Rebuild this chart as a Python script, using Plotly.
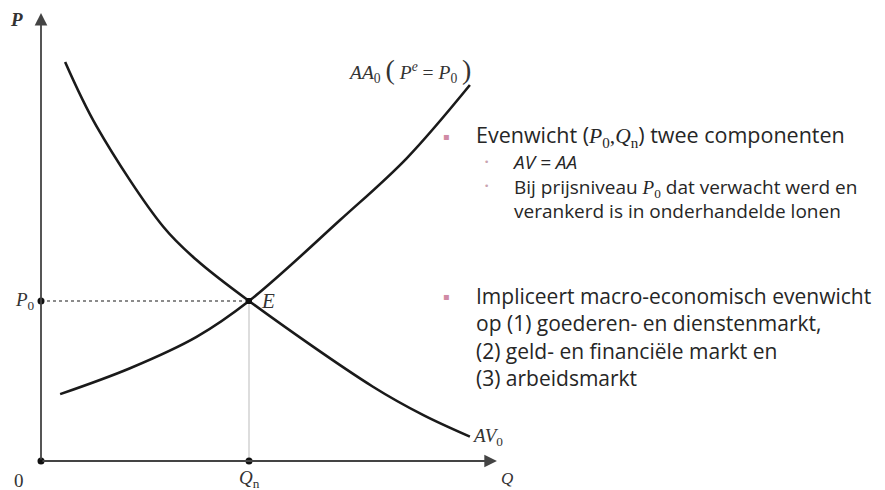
import plotly.graph_objects as go

# ---- data (Q = output, P = price level) ----
av_q = [0.58, 1.34, 2.94, 3.74, 5.0, 7.98, 9.18, 10.31]
av_p = [12.47, 10.45, 7.32, 6.28, 5.0, 2.32, 1.44, 0.76]
aa_q = [0.46, 2.14, 3.74, 5.0, 7.19, 8.79, 10.31]
aa_p = [2.09, 2.90, 3.88, 5.0, 7.53, 9.46, 11.75]
q_n = 5.0
p_0 = 5.0
q_max = 10.96
p_max = 14.0

main_head = 'Evenwicht (<span style="font-family:Liberation Serif"><i>P</i><sub>0</sub>,<i>Q</i><sub>n</sub></span>) twee componenten'
main_lines = [
    'Impliceert macro-economisch evenwicht',
    'op (1) goederen- en dienstenmarkt,',
    '(2) geld- en financiële markt en',
    '(3) arbeidsmarkt',
]
sub_lines = [
    '<i>AV = AA</i>',
    'Bij prijsniveau <span style="font-family:Liberation Serif"><i>P</i><sub>0</sub></span> dat verwacht werd en',
    'verankerd is in onderhandelde lonen',
]
main_bullet_y = [136, 296]
sub_bullet_y = [162, 186]

W, H = 885, 490
ux, uy = 41.6, 32.0
x0px, y0px = 41, 461
xr = [-x0px / ux, (W - x0px) / ux]
yr = [-(H - y0px) / uy, y0px / uy]

def px(x):
    return x / W

def py(y):
    return 1 - y / H

fig = go.Figure()
axis_col = "#444444"
curve_col = "#1a1a1a"

# guide lines
fig.add_trace(go.Scatter(x=[0, q_n], y=[p_0, p_0], mode="lines",
                         line=dict(color="#666666", width=1.3, dash="dot"), hoverinfo="skip"))
fig.add_trace(go.Scatter(x=[q_n, q_n], y=[0, p_0], mode="lines",
                         line=dict(color="#bbbbbb", width=1), hoverinfo="skip"))
# curves
fig.add_trace(go.Scatter(x=av_q, y=av_p, mode="lines", line=dict(color=curve_col, width=2.6, shape="spline"), hoverinfo="skip"))
fig.add_trace(go.Scatter(x=aa_q, y=aa_p, mode="lines", line=dict(color=curve_col, width=2.6, shape="spline"), hoverinfo="skip"))

# axes as arrows
fig.add_annotation(x=q_max, y=0, ax=0, ay=0, xref="x", yref="y", axref="x", ayref="y",
                   showarrow=True, arrowhead=2, arrowsize=1.4, arrowwidth=1.8, arrowcolor=axis_col, text="")
fig.add_annotation(x=0, y=p_max, ax=0, ay=0, xref="x", yref="y", axref="x", ayref="y",
                   showarrow=True, arrowhead=2, arrowsize=1.4, arrowwidth=1.8, arrowcolor=axis_col, text="")

# dots
fig.add_trace(go.Scatter(x=[0, 0, q_n], y=[0, p_0, 0], mode="markers",
                         marker=dict(color="#111111", size=7), hoverinfo="skip"))
fig.add_trace(go.Scatter(x=[q_n], y=[p_0], mode="markers",
                         marker=dict(color="#111111", size=6, symbol="square"), hoverinfo="skip"))

def lab(x, y, t, xa="center", ya="middle", size=19, xs=0, ys=0):
    fig.add_annotation(x=x, y=y, xref="x", yref="y", text=t, showarrow=False,
                       xanchor=xa, yanchor=ya, xshift=xs, yshift=ys, borderpad=0,
                       font=dict(family="Liberation Serif", size=size, color="#333333"))

lab(0, p_max, "<b><i>P</i></b>", xa="right", xs=-17, ys=-6, size=19)
lab(0, 0, "0", xa="right", ya="top", xs=-16, ys=-8, size=19)
lab(q_n, 0, "<i>Q</i><sub>n</sub>", ya="top", ys=-5)
lab(q_max, 0, "<i>Q</i>", xa="left", ya="top", xs=3, ys=-7, size=17)
lab(0, p_0, "<i>P</i><sub>0</sub>", xa="right", xs=-5)
lab(q_n, p_0, "<i>E</i>", xa="left", xs=11, size=21)
lab(av_q[-1], av_p[-1], "<i>AV</i><sub>0</sub>", xa="left", xs=1, ys=0)
lab(aa_q[-1], aa_p[-1],
    '<i>AA</i><sub>0</sub> <span style="font-size:28px">(</span> <i>P</i><sup><i>e</i></sup> = <i>P</i><sub>0</sub> <span style="font-size:28px">)</span>',
    xa="right", ya="bottom", xs=2, ys=-2, size=19.5)

# right-hand text
txt_col = "#262626"
fig.add_annotation(x=px(475), y=py(135), xref="paper", yref="paper", text=main_head, showarrow=False,
                   xanchor="left", yanchor="middle", align="left", borderpad=0,
                   font=dict(family="Open Sans", size=21.5, color=txt_col))
fig.add_annotation(x=px(475), y=py((296 + 377) / 2), xref="paper", yref="paper", text="<br>".join(main_lines),
                   showarrow=False, xanchor="left", yanchor="middle", align="left", borderpad=0,
                   font=dict(family="Open Sans", size=21, color=txt_col))
fig.add_annotation(x=px(511), y=py((162 + 209) / 2 + 1), xref="paper", yref="paper", text="<br>".join(sub_lines),
                   showarrow=False, xanchor="left", yanchor="middle", align="left", borderpad=0,
                   font=dict(family="Open Sans", size=19, color=txt_col))
for y in main_bullet_y:
    fig.add_annotation(x=px(446), y=py(y), xref="paper", yref="paper", text="▪", showarrow=False,
                       xanchor="center", yanchor="middle", borderpad=0,
                       font=dict(family="DejaVu Sans", size=10, color="#d08aa5"))
for y in sub_bullet_y:
    fig.add_annotation(x=px(487), y=py(y), xref="paper", yref="paper", text="•", showarrow=False,
                       xanchor="center", yanchor="middle", borderpad=0,
                       font=dict(family="DejaVu Sans", size=9, color="#c9a3b0"))

fig.update_layout(width=W, height=H, margin=dict(l=0, r=0, t=0, b=0),
                  paper_bgcolor="white", plot_bgcolor="white", showlegend=False,
                  xaxis=dict(range=xr, visible=False, fixedrange=True),
                  yaxis=dict(range=yr, visible=False, fixedrange=True))
fig.write_html("out.html", config={"displayModeBar": False},
               post_script="document.body.style.margin='0';")
